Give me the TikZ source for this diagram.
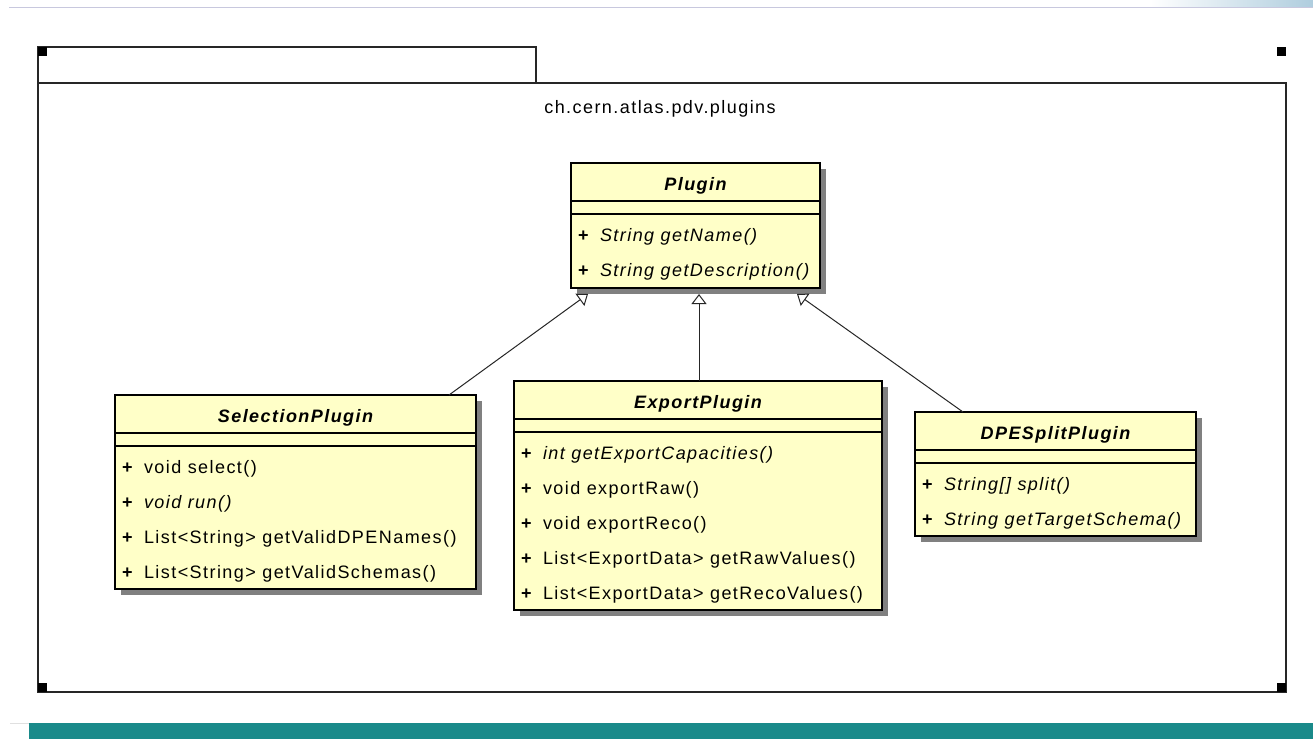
\documentclass[tikz,border=0pt]{standalone}
\usepackage{fontspec}
\setmainfont{Liberation Sans}[LetterSpace=8]
\usetikzlibrary{arrows.meta}

\definecolor{classfill}{RGB}{255,255,200}
\definecolor{classshadow}{RGB}{128,128,128}
\definecolor{barteal}{RGB}{26,138,138}
\definecolor{ruleline}{RGB}{200,200,222}
\definecolor{cornerblue}{RGB}{175,205,222}

\tikzset{
  umltext/.style={font=\fontsize{18}{20}\selectfont, inner sep=0pt, outer sep=0pt},
  classbox/.style={draw=black, line width=1.3pt, fill=classfill, anchor=north west, inner sep=0pt, outer sep=0pt},
  classshade/.style={fill=classshadow},
  classrule/.style={draw=black, line width=1.3pt},
  classname/.style={umltext, anchor=base, font=\fontsize{18}{20}\selectfont\bfseries\itshape},
  opvis/.style={umltext, anchor=base west, font=\fontsize{18}{20}\selectfont\bfseries},
  opsig/.style={umltext, anchor=base west},
  pkgline/.style={draw=black!85, line width=1.6pt},
  pkgmark/.style={fill=black},
  generalization/.style={draw=black!85, line width=1pt,
    -{Triangle[open, width=15pt, length=10pt, line width=1pt]}},
}

% class box: #1 name, #2 left, #3 top, #4 right, #5 bottom, #6 class name
\newcommand\umlclass[6]{%
  \fill[classshade] (#2+6,#3+6) rectangle (#4+6,#5+6);
  \node[classbox, minimum width={#4-#2}, minimum height={#5-#3}] (#1) at (#2,#3) {};
  \draw[classrule] (#2,#3+38) -- (#4,#3+38);
  \draw[classrule] (#2,#3+51) -- (#4,#3+51);
  \node[classname] (#1-name) at ({(#2+#4)/2},#3+27.5) {#6};
}

% operation row: #1 class, #2 index, #3 class left, #4 baseline, #5 signature
\newcommand\umlop[5]{%
  \node[opvis] (#1-vis#2) at (#3+7,#4) {+};
  \node[opsig] (#1-op#2) at (#3+29,#4) {#5};
}

\begin{document}
\begin{tikzpicture}[x=1pt, y=-1pt]
  \useasboundingbox (0,0) rectangle (1313,739);
  \fill[white] (0,0) rectangle (1313,739);

  % page header rule and corner shading
  \draw[ruleline, line width=1pt] (9,7) -- (1313,7);
  \shade[left color=white, right color=cornerblue] (1150,0) rectangle (1313,6.5);

  % page footer band
  \draw[black!12, line width=0.8pt] (10,723) -- (29,723);
  \fill[barteal] (29,723) rectangle (1313,739);

  % package frame with its tab
  \draw[pkgline] (38,47) rectangle (536,83);
  \draw[pkgline] (38,83) rectangle (1286,692);
  \fill[pkgmark] (38,47) rectangle (47,56);
  \fill[pkgmark] (1277,47) rectangle (1286,56);
  \fill[pkgmark] (38,683) rectangle (47,692);
  \fill[pkgmark] (1277,683) rectangle (1286,692);
  \node[umltext, anchor=base] (pkg-name) at (660,113) {ch.cern.atlas.pdv.plugins};

  % Plugin
  \umlclass{plugin}{571}{163}{820}{288}{Plugin}
  \umlop{plugin}{1}{571}{241.5}{\textit{String getName()}}
  \umlop{plugin}{2}{571}{276.5}{\textit{String getDescription()}}

  % SelectionPlugin
  \umlclass{sel}{115}{395}{476}{589}{SelectionPlugin}
  \umlop{sel}{1}{115}{473.5}{void select()}
  \umlop{sel}{2}{115}{508.5}{\textit{void run()}}
  \umlop{sel}{3}{115}{543.5}{List<String> getValidDPENames()}
  \umlop{sel}{4}{115}{578.5}{List<String> getValidSchemas()}

  % ExportPlugin
  \umlclass{exp}{514}{381}{882}{610}{ExportPlugin}
  \umlop{exp}{1}{514}{459.5}{\textit{int getExportCapacities()}}
  \umlop{exp}{2}{514}{494.5}{void exportRaw()}
  \umlop{exp}{3}{514}{529.5}{void exportReco()}
  \umlop{exp}{4}{514}{564.5}{List<ExportData> getRawValues()}
  \umlop{exp}{5}{514}{599.5}{List<ExportData> getRecoValues()}

  % DPESplitPlugin
  \umlclass{dpe}{915}{412}{1196}{536}{DPESplitPlugin}
  \umlop{dpe}{1}{915}{490.5}{\textit{String[] split()}}
  \umlop{dpe}{2}{915}{525.5}{\textit{String getTargetSchema()}}

  % generalizations
  \draw[generalization] ([xshift=153.5pt]sel.north) -- ([xshift=-107.5pt, yshift=-6pt]plugin.south);
  \draw[generalization] ([xshift=1pt]exp.north) -- ([xshift=3.5pt, yshift=-6pt]plugin.south);
  \draw[generalization] ([xshift=-92.5pt]dpe.north) -- ([xshift=101.5pt, yshift=-6pt]plugin.south);
\end{tikzpicture}
\end{document}
